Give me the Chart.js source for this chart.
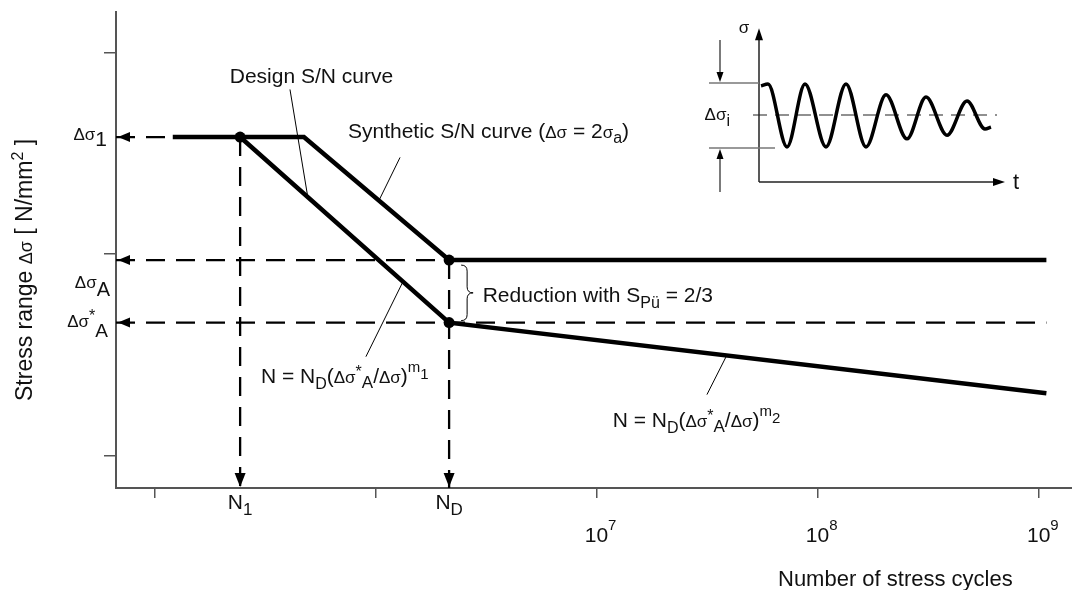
<!DOCTYPE html>
<html>
<head>
<meta charset="utf-8">
<title>S/N curve</title>
<script src="https://cdn.jsdelivr.net/npm/chart.js@4.4.1/dist/chart.umd.min.js"></script>
<style>
  html, body { margin: 0; padding: 0; background: #fff; }
  #wrap { position: relative; width: 1072px; height: 590px; overflow: hidden; }
  #chart-sn { position: absolute; left: 0; top: 0; }
  #chart-inset { position: absolute; left: 690px; top: 0; }
</style>
</head>
<body>
<div id="wrap">
  <canvas id="chart-sn" width="1072" height="590"></canvas>
  <canvas id="chart-inset" width="350" height="215"></canvas>
</div>
<script>
const FONT = '"Liberation Sans", Arial, Helvetica, sans-serif';
const INK = '#111';
const AXIS = '#555';

// number of cycles (log axis)
const N_START = 1.21e5;  // left end of the plateau
const N_1 = 2.44e5;
const N_KNEE = 4.74e5;   // end of the synthetic plateau
const N_D = 2.15e6;
const N_END = 1.08e9;

// stress range (schematic units)
const DS_1 = 258;
const DS_A = 197;
const DS_A_STAR = 166;
const DS_END = 131;

const X_MIN = 6.7e4, X_MAX = 1.41e9;
const Y_MIN = 84, Y_MAX = 320;

const synthN = [N_START, N_KNEE, N_D, N_END];
const synthS = [DS_1, DS_1, DS_A, DS_A];
const designN = [N_1, N_D, N_END];
const designS = [DS_1, DS_A_STAR, DS_END];
const markN = [N_1, N_D, N_D];
const markS = [DS_1, DS_A, DS_A_STAR];

const xTicks = [1e5, 1e6, 1e7, 1e8, 1e9];
const xDecades = [7, 8, 9];
const yTicks = [100, 200, 300];

// stress-time history for the small sketch (t, sigma)
const waveT = [0.1, 0.45, 1.4, 2.3, 3.35, 4.35, 5.35, 6.35, 7.4, 8.35, 9.4, 10.4, 11.3, 11.6];
const waveS = [0.94, 1.0, -1.03, 1.0, -1.03, 1.0, -1.03, 0.65, -0.77, 0.58, -0.65, 0.45, -0.45, -0.39];

const toPts = (xs, ys) => xs.map((x, i) => ({x, y: ys[i]}));

// text pieces: plain, greek, subscript, superscript
const T = (t, size = 21) => ({t, size});
const G = (t, size = 17) => ({t, size});
const SUB = (t, dy = 6, size = 16) => ({t, size, dy});
const SUP = (t, dy = -9, size = 16) => ({t, size, dy});

function richText(ctx, segs, x, y, align) {
  let w = 0;
  segs.forEach(s => {
    ctx.font = s.size + 'px ' + FONT;
    s.w = ctx.measureText(s.t).width;
    w += s.w;
  });
  let cx = align === 'center' ? x - w / 2 : align === 'right' ? x - w : x;
  ctx.textAlign = 'left';
  ctx.textBaseline = 'alphabetic';
  segs.forEach(s => {
    ctx.font = s.size + 'px ' + FONT;
    ctx.fillText(s.t, cx, y + (s.dy || 0));
    cx += s.w;
  });
}

function arrowHead(ctx, x, y, dir, len, half) {
  ctx.beginPath();
  ctx.moveTo(x, y);
  if (dir === 'left') { ctx.lineTo(x + len, y - half); ctx.lineTo(x + len, y + half); }
  if (dir === 'right') { ctx.lineTo(x - len, y - half); ctx.lineTo(x - len, y + half); }
  if (dir === 'down') { ctx.lineTo(x - half, y - len); ctx.lineTo(x + half, y - len); }
  if (dir === 'up') { ctx.lineTo(x - half, y + len); ctx.lineTo(x + half, y + len); }
  ctx.closePath();
  ctx.fill();
}

function line(ctx, x1, y1, x2, y2) {
  ctx.beginPath();
  ctx.moveTo(x1, y1);
  ctx.lineTo(x2, y2);
  ctx.stroke();
}

// labels in data coordinates
const notes = [
  {x: 2.19e5, y: 285, segs: [T('Design S/N curve')]},
  {x: 7.5e5, y: 257.5, segs: [T('Synthetic S/N curve ('), G('Δσ'), T(' = 2'), G('σ'), SUB('a', 5), T(')')]},
  {x: 3.05e6, y: 176.4, segs: [T('Reduction with S'), SUB('Pü', 6), T(' = 2/3')]},
  {x: 3.03e5, y: 136.2, segs: [T('N = N'), SUB('D'), T('('), G('Δσ'), SUP('*', -6), SUB('A', 5, 17), T('/'), G('Δσ'), T(')'), SUP('m', -11, 15), SUP('1', -4, 15)]},
  {x: 1.18e7, y: 114.4, segs: [T('N = N'), SUB('D'), T('('), G('Δσ'), SUP('*', -6), SUB('A', 5, 17), T('/'), G('Δσ'), T(')'), SUP('m', -11, 15), SUP('2', -4, 15)]}
];

// pointer lines from the labels to the curves
const leaders = [
  [[4.10e5, 281.6], [4.94e5, 228]],
  [[1.29e6, 247.9], [1.035e6, 226.5]],
  [[9.04e5, 149.1], [1.33e6, 186.3]],
  [[3.15e7, 130.3], [3.87e7, 149.7]]
];

const annotate = {
  id: 'annotate',
  afterDatasetsDraw(chart) {
    const {ctx, chartArea, scales: {x, y}} = chart;
    const px = v => x.getPixelForValue(v);
    const py = v => y.getPixelForValue(v);
    ctx.save();
    ctx.fillStyle = '#000';

    // arrowheads where the guides meet the axes
    [DS_1, DS_A, DS_A_STAR].forEach(v => arrowHead(ctx, chartArea.left + 2, py(v), 'left', 12, 5));
    [N_1, N_D].forEach(v => arrowHead(ctx, px(v), chartArea.bottom - 1, 'down', 14, 5.5));

    // leaders
    ctx.strokeStyle = '#000';
    ctx.lineWidth = 1;
    leaders.forEach(([a, b]) => line(ctx, px(a[0]), py(a[1]), px(b[0]), py(b[1])));

    // brace between the two fatigue limits
    const bx = px(N_D) + 12;
    const top = py(DS_A) + 5, bot = py(DS_A_STAR) - 2, mid = (top + bot) / 2;
    ctx.beginPath();
    ctx.moveTo(bx, top);
    ctx.quadraticCurveTo(bx + 6, top, bx + 6, top + 6);
    ctx.lineTo(bx + 6, mid - 6);
    ctx.quadraticCurveTo(bx + 6, mid, bx + 12, mid);
    ctx.quadraticCurveTo(bx + 6, mid, bx + 6, mid + 6);
    ctx.lineTo(bx + 6, bot - 6);
    ctx.quadraticCurveTo(bx + 6, bot, bx, bot);
    ctx.stroke();

    ctx.fillStyle = INK;
    notes.forEach(n => richText(ctx, n.segs, px(n.x), py(n.y), 'left'));

    // x tick labels
    xDecades.forEach(e => richText(ctx, [T('10'), SUP(String(e), -12, 15)], px(Math.pow(10, e)) - 12, 542, 'left'));
    richText(ctx, [T('N'), SUB('1', 6, 17)], px(N_1), 509, 'center');
    richText(ctx, [T('N'), SUB('D', 6, 17)], px(N_D), 509, 'center');

    // y labels
    richText(ctx, [G('Δσ'), SUB('1', 6, 21)], 107, py(DS_1) + 3, 'right');
    richText(ctx, [G('Δσ'), SUB('A', 8, 20)], 110, py(DS_A) + 28, 'right');
    richText(ctx, [G('Δσ'), SUP('*', -6), SUB('A', 10, 19)], 108, py(DS_A_STAR) + 4, 'right');

    // axis titles
    richText(ctx, [T('Number of stress cycles', 22)], 778, 586, 'left');
    ctx.translate(32, 401);
    ctx.rotate(-Math.PI / 2);
    richText(ctx, [T('Stress range ', 23), G('Δσ', 18), T(' [ N/mm', 23), SUP('2', -9, 16), T(' ]', 23)], 0, 0, 'left');
    ctx.restore();
  }
};

const curveStyle = {borderColor: '#000', pointRadius: 0, fill: false, tension: 0, borderJoinStyle: 'miter', borderWidth: 4.5};
const guideStyle = {borderColor: '#000', pointRadius: 0, fill: false, tension: 0, borderWidth: 2.3, borderDash: [19, 11]};

new Chart(document.getElementById('chart-sn'), {
  type: 'line',
  data: {
    datasets: [
      {data: toPts(markN, markS), showLine: false, pointRadius: 5.5, pointBackgroundColor: '#000', pointBorderWidth: 0},
      {...curveStyle, data: toPts(synthN, synthS)},
      {...curveStyle, data: toPts(designN, designS)},
      {...guideStyle, data: [{x: X_MIN, y: DS_1}, {x: N_1, y: DS_1}]},
      {...guideStyle, data: [{x: X_MIN, y: DS_A}, {x: N_D, y: DS_A}]},
      {...guideStyle, data: [{x: X_MIN, y: DS_A_STAR}, {x: N_END, y: DS_A_STAR}]},
      {...guideStyle, data: [{x: N_1, y: DS_1}, {x: N_1, y: Y_MIN}]},
      {...guideStyle, data: [{x: N_D, y: DS_A}, {x: N_D, y: Y_MIN}]}
    ]
  },
  options: {
    responsive: false,
    animation: false,
    devicePixelRatio: 1,
    layout: {autoPadding: false, padding: {top: 12, right: 0, bottom: 0, left: 0}},
    plugins: {legend: {display: false}, tooltip: {enabled: false}},
    scales: {
      x: {
        type: 'logarithmic', min: X_MIN, max: X_MAX,
        afterBuildTicks: s => { s.ticks = xTicks.map(v => ({value: v})); },
        afterFit: s => { s.height = 102; s.paddingLeft = 0; s.paddingRight = 0; },
        ticks: {callback: () => '', autoSkip: false, maxRotation: 0},
        grid: {drawOnChartArea: false, drawTicks: true, tickLength: 10, color: AXIS, lineWidth: 1.5},
        border: {display: true, color: AXIS, width: 2}
      },
      y: {
        type: 'linear', min: Y_MIN, max: Y_MAX,
        afterBuildTicks: s => { s.ticks = yTicks.map(v => ({value: v})); },
        afterFit: s => { s.width = 116; s.paddingTop = 0; s.paddingBottom = 0; },
        ticks: {callback: () => '', autoSkip: false},
        grid: {drawOnChartArea: false, drawTicks: true, tickLength: 12, color: AXIS, lineWidth: 1.5},
        border: {display: true, color: AXIS, width: 2}
      }
    }
  },
  plugins: [annotate]
});

// small stress-time sketch
const sketch = {
  id: 'sketch',
  beforeDatasetsDraw(chart) {
    const {ctx, scales: {x, y}} = chart;
    const px = v => x.getPixelForValue(v);
    const py = v => y.getPixelForValue(v);
    ctx.save();
    ctx.strokeStyle = '#222';
    ctx.fillStyle = '#000';
    ctx.lineWidth = 1.5;
    // sigma and t axes
    line(ctx, px(0), py(-2.16), px(0), py(2.8) + 8);
    arrowHead(ctx, px(0), py(2.8), 'up', 12, 4);
    line(ctx, px(0), py(-2.16), px(12.3) - 8, py(-2.16));
    arrowHead(ctx, px(12.3), py(-2.16), 'right', 12, 4);
    // mean line
    ctx.lineWidth = 1.2;
    ctx.setLineDash([14, 8]);
    line(ctx, px(-0.3), py(0), px(11.9), py(0));
    ctx.setLineDash([]);
    // range bounds with arrows
    ctx.strokeStyle = '#777';
    ctx.lineWidth = 1.5;
    line(ctx, px(-2.5), py(1.03), px(0), py(1.03));
    line(ctx, px(-2.5), py(-1.065), px(0.8), py(-1.065));
    ctx.strokeStyle = '#222';
    ctx.lineWidth = 1.2;
    line(ctx, px(-1.95), py(2.42), px(-1.95), py(1.03) - 8);
    arrowHead(ctx, px(-1.95), py(1.03) - 1, 'down', 10, 3.5);
    line(ctx, px(-1.95), py(-2.48), px(-1.95), py(-1.065) + 8);
    arrowHead(ctx, px(-1.95), py(-1.065) + 1, 'up', 10, 3.5);
    // labels
    ctx.fillStyle = INK;
    richText(ctx, [G('Δσ'), SUB('i', 6, 16)], px(-1.45), py(-0.16), 'right');
    richText(ctx, [G('σ')], px(-0.75), py(2.65), 'center');
    richText(ctx, [T('t', 22)], px(12.7), py(-2.39), 'left');
    ctx.restore();
  }
};

new Chart(document.getElementById('chart-inset'), {
  type: 'line',
  data: {
    datasets: [{
      data: toPts(waveT, waveS),
      borderColor: '#000', borderWidth: 3.5, pointRadius: 0, fill: false,
      cubicInterpolationMode: 'monotone'
    }]
  },
  options: {
    responsive: false,
    animation: false,
    devicePixelRatio: 1,
    layout: {autoPadding: false, padding: 0},
    plugins: {legend: {display: false}, tooltip: {enabled: false}},
    scales: {
      x: {type: 'linear', min: -3.45, max: 14.05, display: false},
      y: {type: 'linear', min: -3.226, max: 3.71, display: false}
    }
  },
  plugins: [sketch]
});
</script>
</body>
</html>
